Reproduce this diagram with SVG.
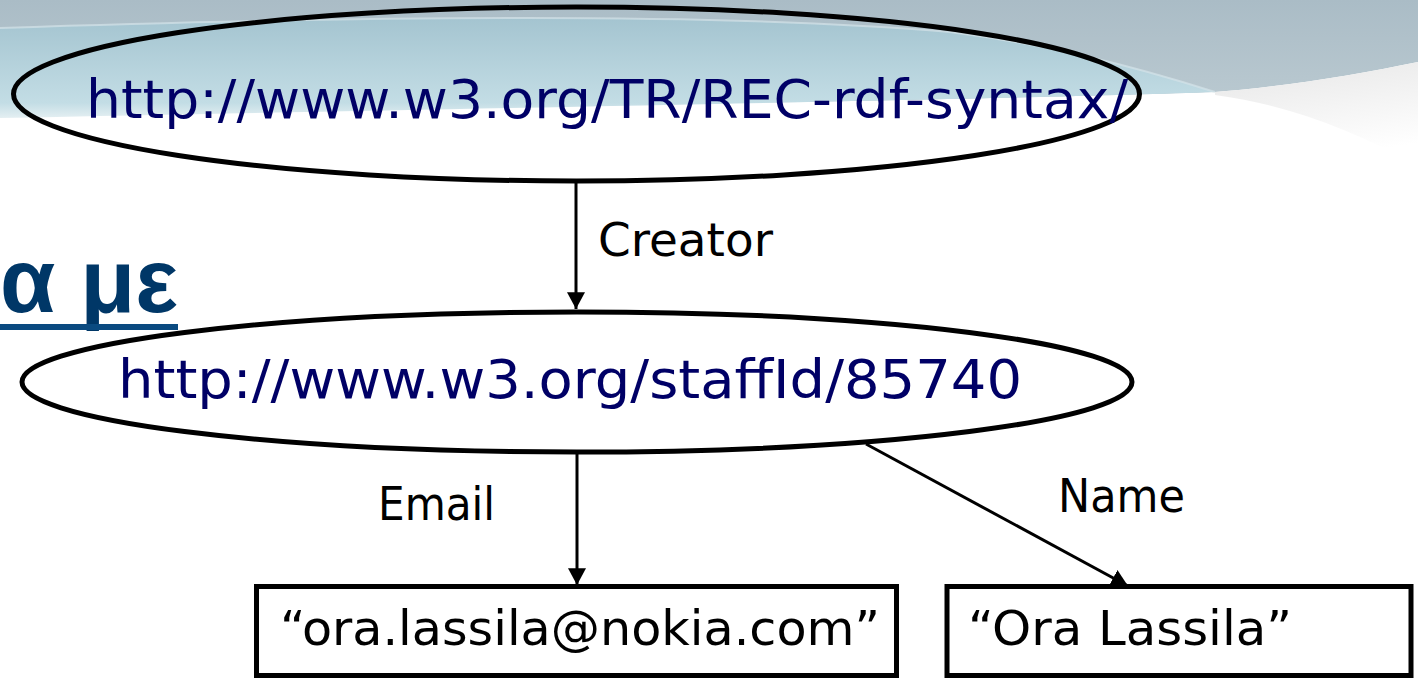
<svg xmlns="http://www.w3.org/2000/svg" width="1418" height="678" viewBox="0 0 1418 678">
  <style>
    .uri { font-family: "DejaVu Sans", "Liberation Sans", sans-serif; font-size: 54px; fill: #000066; }
    .lbl { font-family: "DejaVu Sans", "Liberation Sans", sans-serif; font-size: 46px; fill: #000000; }
    .lit { font-family: "DejaVu Sans", "Liberation Sans", sans-serif; font-size: 48px; fill: #000000; }
    .res { fill: none; stroke: #000000; stroke-width: 5; }
    .box { fill: #ffffff; stroke: #000000; stroke-width: 5; }
    .edge { fill: none; stroke: #000000; stroke-width: 3; marker-end: url(#arrow); }
    .head { font-family: "Liberation Sans", "DejaVu Sans", sans-serif; font-weight: bold; font-size: 90px; fill: #003767; }
  </style>
  <defs>
    <linearGradient id="topGrad" x1="0" y1="0" x2="0" y2="1">
      <stop offset="0" stop-color="#aabcc6"/>
      <stop offset="1" stop-color="#bccbd2"/>
    </linearGradient>
    <linearGradient id="blueGrad" x1="0" y1="0" x2="0" y2="1">
      <stop offset="0" stop-color="#a4c4d0"/>
      <stop offset="0.85" stop-color="#c3dde5"/>
      <stop offset="1" stop-color="#e4eff2"/>
    </linearGradient>
    <linearGradient id="grayGrad" x1="0" y1="0" x2="0.3" y2="1">
      <stop offset="0" stop-color="#e6e6e6"/>
      <stop offset="1" stop-color="#ffffff"/>
    </linearGradient>
    <marker id="arrow" markerUnits="userSpaceOnUse" markerWidth="18" markerHeight="18" viewBox="0 0 16 16" refX="15" refY="8" orient="auto">
      <path d="M0,0 L15,8 L0,16 Z" fill="#000000"/>
    </marker>
  </defs>

  <g id="background">
    <rect x="0" y="0" width="1418" height="678" fill="#ffffff"/>
    <path d="M0,0 H1418 V62 C1360,74 1290,86 1215,92 C1050,98 700,104 0,116 Z" fill="url(#topGrad)"/>
    <path d="M0,28 C300,18 700,10 950,32 C1050,45 1130,65 1215,92 C1050,98 700,104 0,118 Z" fill="url(#blueGrad)"/>
    <path d="M0,28 C300,18 700,10 950,32 C1050,45 1130,65 1215,92" fill="none" stroke="#d4e2e8" stroke-width="2" opacity="0.7"/>
    <path d="M1215,92 C1290,86 1360,74 1418,62 V165 C1350,130 1290,105 1215,95 Z" fill="url(#grayGrad)"/>
  </g>

  <g id="heading">
    <text class="head" x="178" y="312" text-anchor="end">α με</text>
    <rect x="0" y="324" width="178" height="6" fill="#0a4a80"/>
  </g>

  <g id="connectors">
    <line class="edge" x1="576" y1="182" x2="576" y2="309"/>
    <line class="edge" x1="577" y1="453" x2="577" y2="585"/>
    <line class="edge" x1="866" y1="444" x2="1128" y2="586"/>
    <text class="lbl" x="598" y="256" textLength="175" lengthAdjust="spacingAndGlyphs">Creator</text>
    <text class="lbl" x="378" y="520" textLength="117" lengthAdjust="spacingAndGlyphs">Email</text>
    <text class="lbl" x="1058" y="512" textLength="127" lengthAdjust="spacingAndGlyphs">Name</text>
  </g>

  <g id="node-rdf-syntax">
    <ellipse class="res" cx="576.5" cy="94" rx="563" ry="87"/>
    <text class="uri" x="86" y="118" textLength="1042" lengthAdjust="spacingAndGlyphs">http://www.w3.org/TR/REC-rdf-syntax/</text>
  </g>

  <g id="node-staff">
    <ellipse class="res" cx="577" cy="382" rx="555" ry="70"/>
    <text class="uri" x="118" y="398" textLength="904" lengthAdjust="spacingAndGlyphs">http://www.w3.org/staffId/85740</text>
  </g>

  <g id="node-email">
    <rect class="box" x="256.5" y="586.5" width="640" height="89"/>
    <text class="lit" x="280" y="645" textLength="600" lengthAdjust="spacingAndGlyphs">“ora.lassila@nokia.com”</text>
  </g>

  <g id="node-name">
    <rect class="box" x="947" y="586.5" width="464" height="89"/>
    <text class="lit" x="968" y="645" textLength="324" lengthAdjust="spacingAndGlyphs">“Ora Lassila”</text>
  </g>
</svg>
